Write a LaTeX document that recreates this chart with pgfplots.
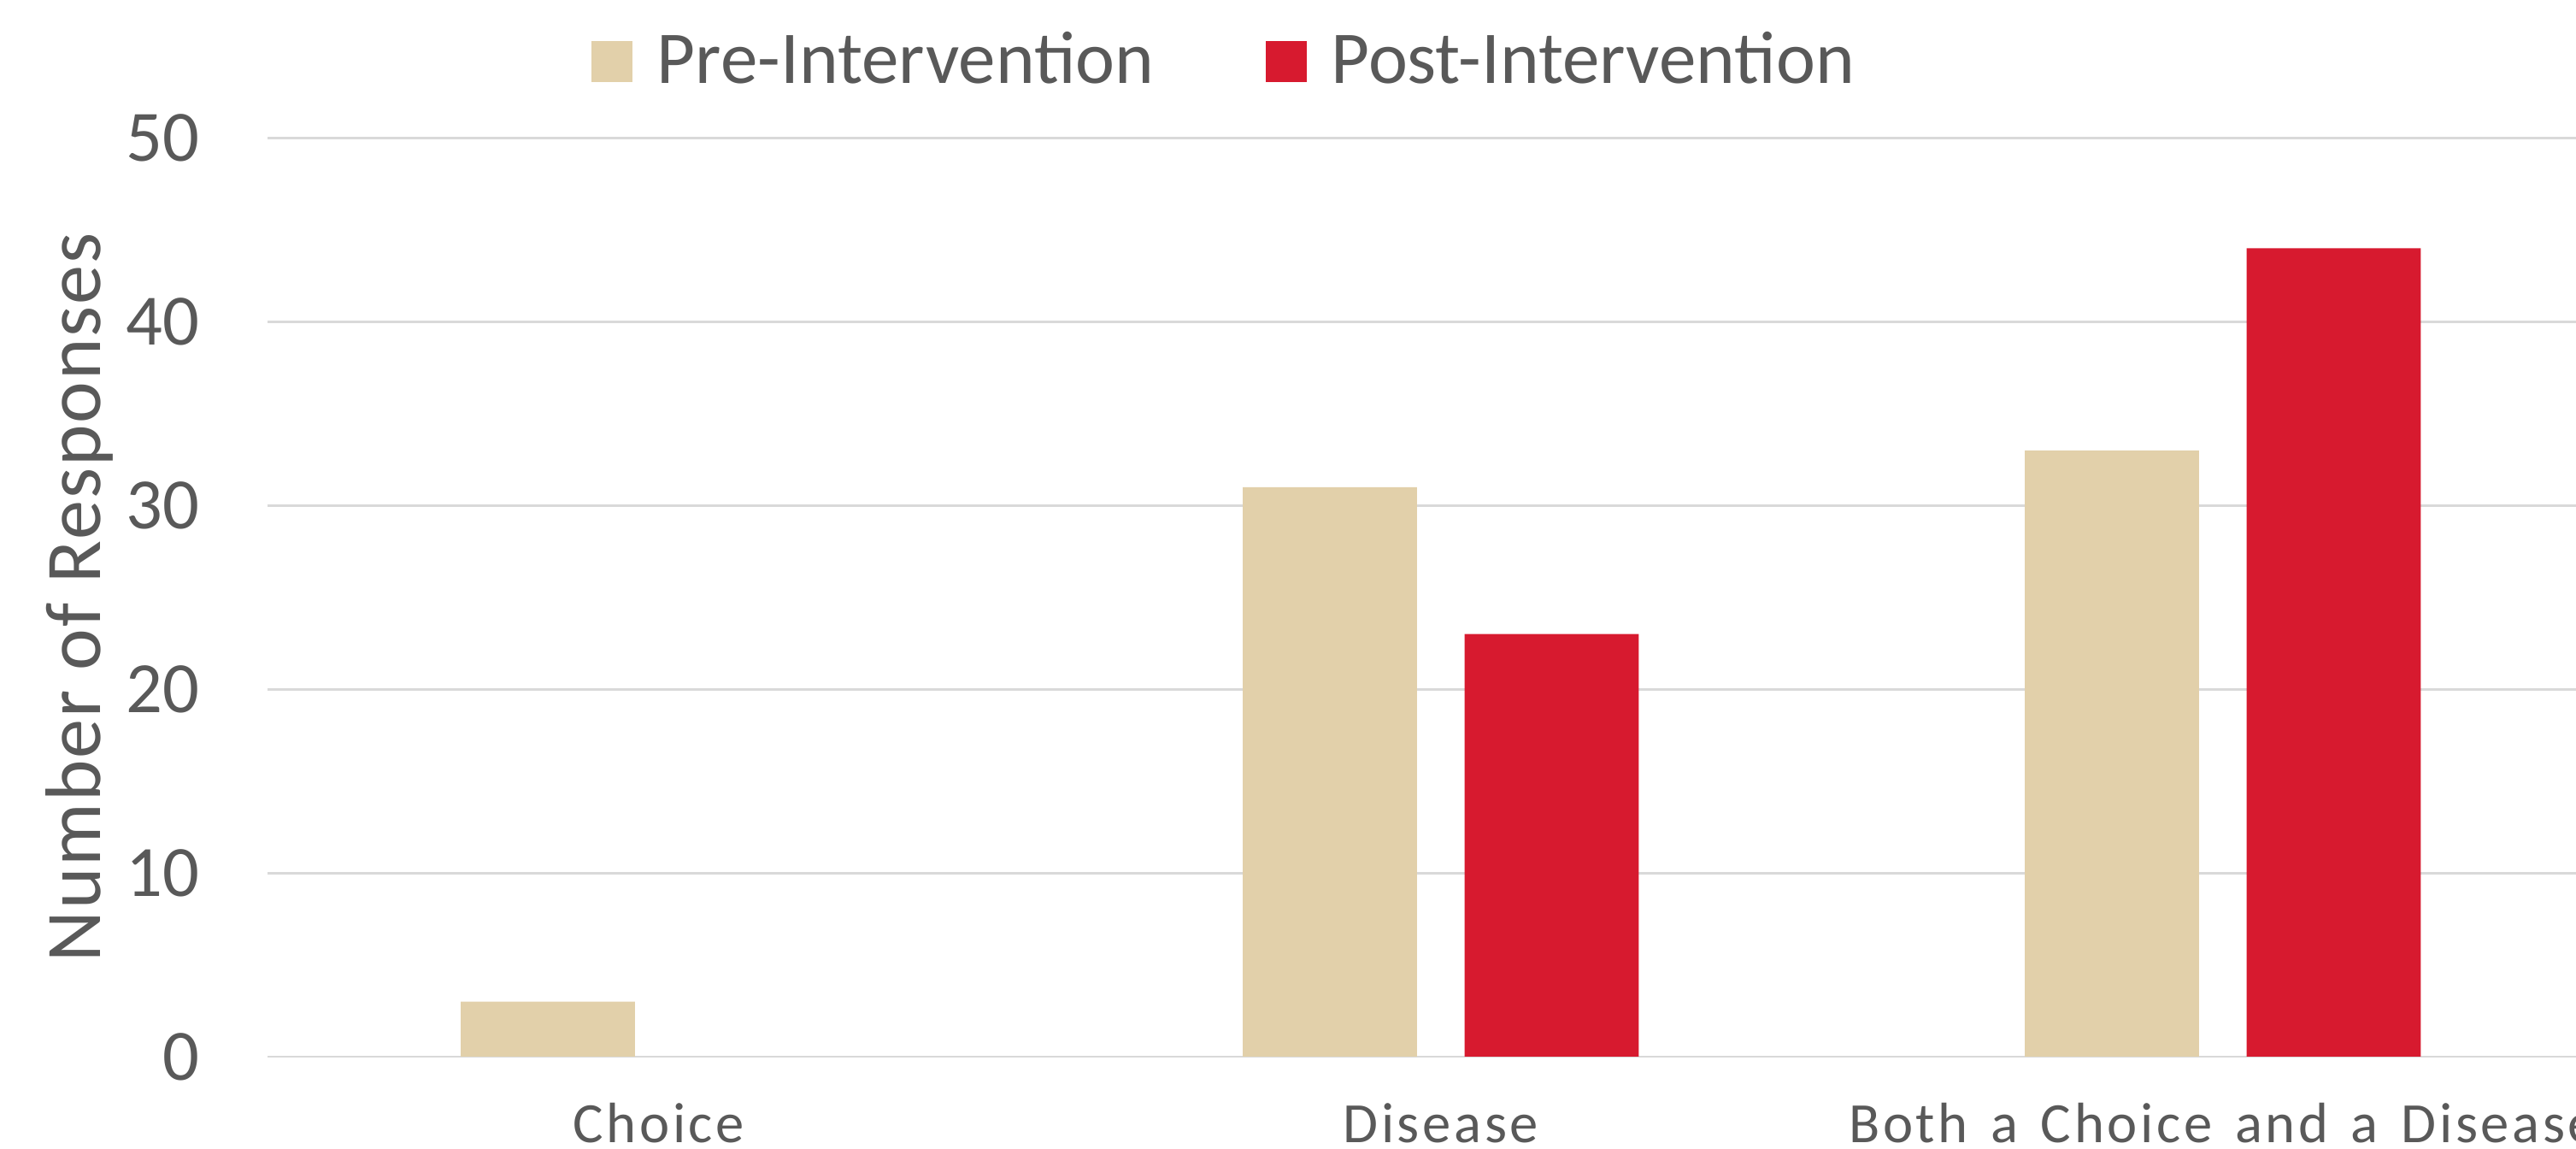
\documentclass[border=0pt]{standalone}
\usepackage{fontspec}
\setmainfont{Carlito}
\newfontfamily\xfont[LetterSpace=5.5,WordSpace=1.42]{Carlito}
\newfontfamily\yfont[LetterSpace=2.2]{Carlito}
\usepackage{pgfplots}
\pgfplotsset{compat=1.18}
\definecolor{pretan}{HTML}{E2D0AA}
\definecolor{postred}{HTML}{D71A2F}
\definecolor{gridgray}{HTML}{D9D9D9}
\definecolor{textgray}{HTML}{595959}
\begin{document}
\begin{tikzpicture}
\useasboundingbox (-48.9pt,-16.8pt) rectangle (421.5pt,192.9pt);
\clip (-48.9pt,-16.8pt) rectangle (421.5pt,192.9pt);
\begin{axis}[
  scale only axis,
  width=428.4pt, height=167.7pt,
  xmin=-0.5, xmax=2.5, ymin=0, ymax=50,
  xtick={0,1,2},
  xticklabels={Choice, Disease, Both a Choice and a Disease},
  ytick={0,10,20,30,40,50},
  ymajorgrids,
  grid style={draw=gridgray, line width=0.45pt},
  axis line style={draw=none},
  major tick length=0pt,
  tick style={draw=none},
  /pgf/number format/assume math mode=true,
  yticklabel style={font=\fontsize{13.2}{15}\selectfont, text=textgray, anchor=east, inner sep=0pt, xshift=-12.3pt},
  xticklabel style={font=\xfont\fontsize{10.4}{12}\selectfont, text=textgray, anchor=base, inner sep=0pt, yshift=-15.7pt},
  ylabel={Number of Responses},
  every axis y label/.style={at={(axis description cs:-0.0714,0.5)}, rotate=90, anchor=base, font=\yfont\fontsize{14.4}{17}\selectfont, text=textgray, inner sep=0pt},
  legend columns=2,
  legend image code/.code={\fill[#1] (0pt,-3.75pt) rectangle (7.5pt,3.75pt);},
  legend style={at={(axis description cs:0.4072,1)}, anchor=center, yshift=13.95pt,
    draw=none, fill=none, font=\fontsize{13.6}{15}\selectfont, text=textgray,
    nodes={inner sep=0pt},
    /tikz/every odd column/.append style={column sep=4.5pt},
    /tikz/every even column/.append style={column sep=20.4pt}},
]
\addplot[ybar, bar width=0.2227, bar shift=-0.1418, fill=pretan, draw=none] coordinates {(0,3) (1,31) (2,33)};
\addlegendentry{Pre-Intervention}
\addplot[ybar, bar width=0.2227, bar shift=0.1418, fill=postred, draw=none] coordinates {(1,23) (2,44)};
\addlegendentry{Post-Intervention}
\end{axis}
\end{tikzpicture}
\end{document}
